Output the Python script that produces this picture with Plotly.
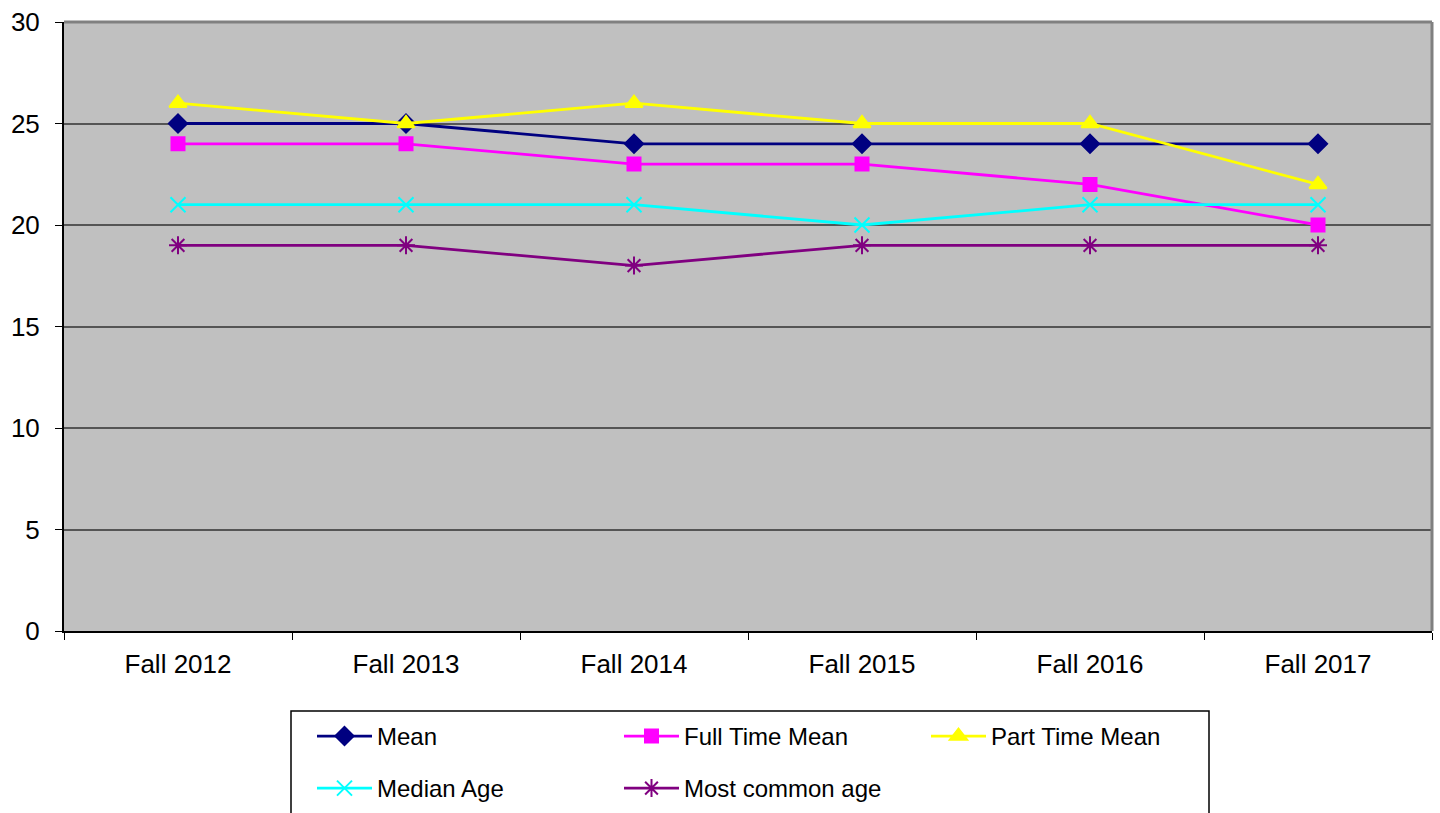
import plotly.graph_objects as go

categories = ["Fall 2012", "Fall 2013", "Fall 2014", "Fall 2015", "Fall 2016", "Fall 2017"]

mean = [25, 25, 24, 24, 24, 24]
full_time_mean = [24, 24, 23, 23, 22, 20]
part_time_mean = [26, 25, 26, 25, 25, 22]
median_age = [21, 21, 21, 20, 21, 21]
most_common_age = [19, 19, 18, 19, 19, 19]

y_ticks = [0, 5, 10, 15, 20, 25, 30]

W, H = 1440, 813
L, R, T, B = 64, 8, 22, 182
PW, PH = W - L - R, H - T - B


def px_x(x):
    return (x - L) / PW


def px_y(y):
    return (H - B - y) / PH


series = [
    ("Mean", mean, "#000080", "diamond", 14, "legend"),
    ("Full Time Mean", full_time_mean, "#FF00FF", "square", 13, "legend"),
    ("Part Time Mean", part_time_mean, "#FFFF00", "triangle-up", 15, "legend"),
    ("Median Age", median_age, "#00FFFF", "x-thin-open", 15, "legend2"),
    ("Most common age", most_common_age, "#800080", "asterisk-open", 15, "legend2"),
]

fig = go.Figure()
for name, values, color, symbol, size, leg in series:
    fig.add_trace(go.Scatter(
        x=categories, y=values, name=name, mode="lines+markers",
        line=dict(color=color, width=2.8),
        marker=dict(symbol=symbol, size=size, color=color,
                    line=dict(color=color, width=2)),
        legend=leg,
    ))

legend_common = dict(
    orientation="h", xanchor="left", yanchor="middle",
    entrywidth=237, entrywidthmode="pixels", itemwidth=55,
    font=dict(family="Liberation Sans, Arial", size=24, color="black"),
    bgcolor="rgba(0,0,0,0)", borderwidth=0,
)

fig.update_layout(
    width=W, height=H,
    margin=dict(l=L, r=R, t=T, b=B, autoexpand=False),
    paper_bgcolor="white",
    plot_bgcolor="#C0C0C0",
    font=dict(family="Liberation Sans, Arial", size=26, color="black"),
    xaxis=dict(
        type="category", range=[-0.5, len(categories) - 0.5],
        tickson="boundaries", ticks="outside", ticklen=7,
        tickcolor="black", showline=True, linecolor="black", linewidth=2,
        showgrid=False, mirror=False, ticklabelstandoff=9,
        tickfont=dict(size=26), automargin=False,
    ),
    yaxis=dict(
        range=[0, 30], tickvals=y_ticks, ticks="outside", ticklen=7,
        tickcolor="black", showline=True, linecolor="black", linewidth=2,
        gridcolor="#555555", gridwidth=1.5, zeroline=False,
        ticklabelstandoff=10, tickfont=dict(size=26), automargin=False,
    ),
    legend=dict(x=px_x(312), y=px_y(736.5), **legend_common),
    legend2=dict(x=px_x(312), y=px_y(788.5), **legend_common),
    shapes=[
        dict(type="line", xref="paper", yref="paper", x0=0, x1=1, y0=1, y1=1,
             line=dict(color="#808080", width=3)),
        dict(type="line", xref="paper", yref="paper", x0=1, x1=1, y0=0, y1=1,
             line=dict(color="#808080", width=3)),
        dict(type="rect", xref="paper", yref="paper",
             x0=px_x(291), x1=px_x(1209), y0=px_y(711), y1=px_y(830),
             line=dict(color="black", width=1.5)),
    ],
)

# drop the default page margin so the figure sits at the window's corner
fig.write_html(
    "out.html",
    config={"displayModeBar": False},
    post_script="document.body.style.margin='0';document.body.style.overflow='hidden';",
)
